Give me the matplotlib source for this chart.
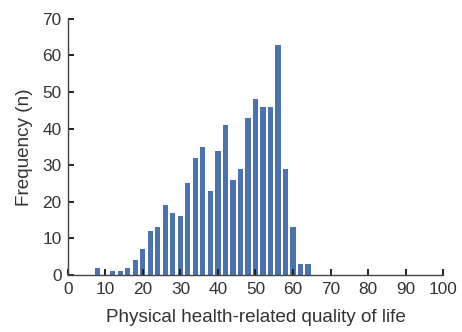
import matplotlib
matplotlib.use("Agg")
import matplotlib.pyplot as plt

plt.rcParams['font.family'] = ['Liberation Sans', 'DejaVu Sans']

bin_centers = [8, 12, 14, 16, 18, 20, 22, 24, 26, 28, 30, 32, 34, 36, 38, 40,
               42, 44, 46, 48, 50, 52, 54, 56, 58, 60, 62, 64]
frequencies = [2, 1, 1, 2, 4, 7, 12, 13, 19, 17, 16, 25, 32, 35, 23, 34,
               41, 26, 29, 43, 48, 46, 46, 63, 29, 13, 3, 3]
x_ticks = list(range(0, 101, 10))
y_ticks = list(range(0, 71, 10))

fig = plt.figure(figsize=(4.62, 3.32), dpi=100)
ax = fig.add_axes([0.147, 0.172, 0.812, 0.771])
ax.bar(bin_centers, frequencies, width=1.35, color='#4C72B0', linewidth=0)

ax.set_xlim(0, 100)
ax.set_ylim(0, 70)
ax.set_xticks(x_ticks)
ax.set_yticks(y_ticks)
for s in ['top', 'right']:
    ax.spines[s].set_visible(False)
for s in ['left', 'bottom']:
    ax.spines[s].set_color('#444444')
    ax.spines[s].set_linewidth(1.0)
ax.tick_params(direction='in', length=4, width=1.4, color='#222222',
               labelsize=12.4, labelcolor='#333333')
ax.tick_params(axis='x', pad=5)
ax.tick_params(axis='y', pad=4.5)
ax.set_xlabel('Physical health-related quality of life', fontsize=13.6, color='#333333', labelpad=8.5)
ax.set_ylabel('Frequency (n)', fontsize=13.6, color='#333333', labelpad=7)

fig.savefig('out.png', dpi=100)
